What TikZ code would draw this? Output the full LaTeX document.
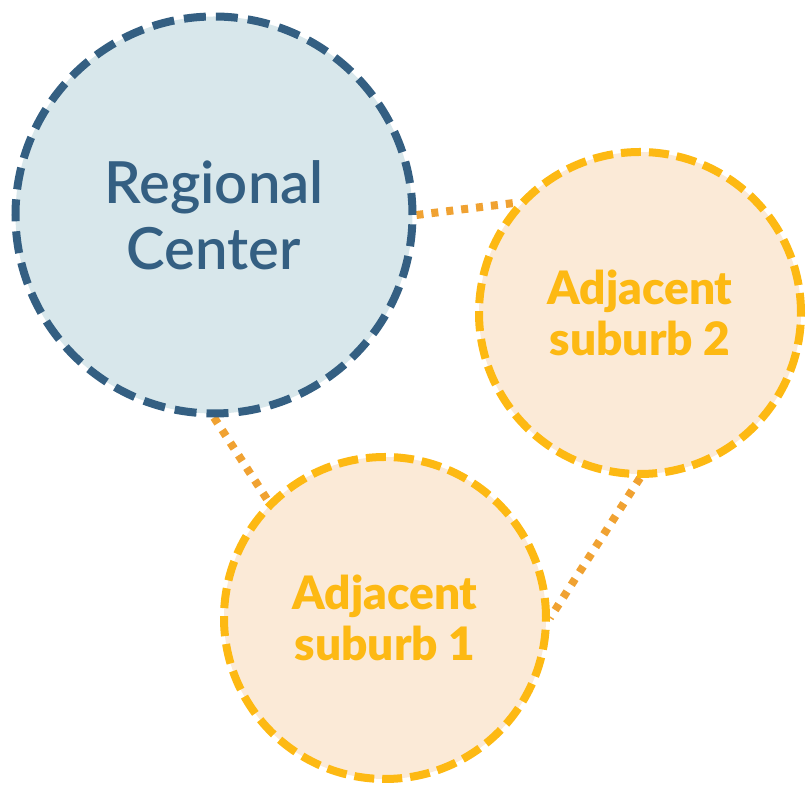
\documentclass[tikz,border=0pt]{standalone}
\usepackage{fontspec}
\setmainfont{Lato}
\newfontfamily\heavyfont{Lato Black}
\newfontfamily\medfont{Lato Semibold}
\usepackage{tikz}
\usetikzlibrary{backgrounds}
\definecolor{centerblue}{HTML}{345F82}
\definecolor{centerfill}{HTML}{D8E7EB}
\definecolor{suburbyellow}{HTML}{FDB913}
\definecolor{suburbfill}{HTML}{FBEAD7}
\definecolor{linkorange}{HTML}{F0A232}

\begin{document}
\begin{tikzpicture}[x=1pt,y=1pt,
    center/.style={circle, draw=centerblue, fill=centerfill, line width=8pt,
      dash pattern=on 22pt off 10pt, minimum size=397pt, inner sep=0pt,
      text=centerblue, align=center, font=\medfont\fontsize{58}{66}\selectfont},
    suburb/.style={circle, draw=suburbyellow, fill=suburbfill, line width=8pt,
      dash pattern=on 20pt off 8pt, minimum size=322pt, inner sep=0pt,
      text=suburbyellow, align=center, font=\heavyfont\fontsize{46}{51}\selectfont},
    link/.style={draw=linkorange, line width=8pt, dash pattern=on 7pt off 8pt}]
  \useasboundingbox (0,0) rectangle (807,792);
  \node[center] (rc) at (214,577) {Regional\\Center};
  \node[suburb] (s2) at (640,479) {Adjacent\\suburb 2};
  \node[suburb] (s1) at (385,174) {Adjacent\\suburb 1};
  % dotted links behind the circles
  \begin{scope}[on background layer]
    \draw[link] (rc.east) -- (s2.138);
    \draw[link] (rc.south) -- (s1.135);
    \draw[link] (s2.south) -- (s1.east);
  \end{scope}
\end{tikzpicture}
\end{document}
